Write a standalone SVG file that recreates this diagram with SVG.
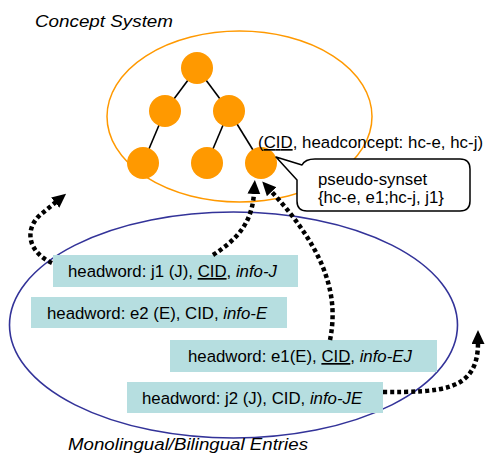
<svg xmlns="http://www.w3.org/2000/svg" width="486" height="455" viewBox="0 0 486 455">
<style>
text{font-family:"Liberation Sans",Arial,sans-serif;font-size:16.8px;fill:#000}
.it{font-style:italic}
.c{fill:#FF9900}
.box{fill:#B6DEE0}
.tree{stroke:#000;stroke-width:1.6;fill:none}
.dot{stroke:#000;stroke-width:4.5;stroke-dasharray:4 3;fill:none;marker-end:url(#ah)}
</style>
<defs>
<marker id="ah" markerUnits="userSpaceOnUse" markerWidth="16" markerHeight="16" refX="1" refY="6.5" orient="auto" viewBox="0 0 16 16">
<path d="M0,0 L14,6.5 L0,13 Z" fill="#000"/>
</marker>
</defs>
<rect width="486" height="455" fill="#fff"/>
<g id="concept-system">
<ellipse cx="239.5" cy="116.5" rx="132.5" ry="85.5" fill="none" stroke="#FF9900" stroke-width="1.5"/>
<text class="it" x="35" y="27" textLength="138" lengthAdjust="spacingAndGlyphs">Concept System</text>
</g>
<g id="entries">
<ellipse cx="233.5" cy="325" rx="224" ry="113" fill="none" stroke="#333399" stroke-width="1.6"/>
<text class="it" x="68" y="450" textLength="240" lengthAdjust="spacingAndGlyphs">Monolingual/Bilingual Entries</text>
</g>
<g id="tree-edges">
<line class="tree" x1="197" y1="68" x2="165" y2="111"/>
<line class="tree" x1="197" y1="68" x2="229" y2="111"/>
<line class="tree" x1="165" y1="111" x2="143" y2="163"/>
<line class="tree" x1="229" y1="111" x2="207" y2="163"/>
<line class="tree" x1="229" y1="111" x2="261" y2="163"/>
</g>
<g id="n-root"><circle class="c" cx="197" cy="68" r="16"/></g>
<g id="n-left"><circle class="c" cx="165" cy="111" r="16"/></g>
<g id="n-right"><circle class="c" cx="229" cy="111" r="16"/></g>
<g id="n-ll"><circle class="c" cx="143" cy="163" r="16"/></g>
<g id="n-rm"><circle class="c" cx="207" cy="163" r="16"/></g>
<g id="n-rr"><circle class="c" cx="261" cy="163" r="16"/></g>
<g id="headconcept-label">
<text x="258" y="148" textLength="225">(<tspan text-decoration="underline">CID</tspan>, headconcept: hc-e, hc-j)</text>
</g>
<g id="callout">
<path d="M276,157 L302,165 Q305,159 315,159 L460,159 Q470,159 470,169 L470,201 Q470,211 460,211 L307,211 Q297,211 297,201 L297,180 Z" fill="#fff" stroke="#000" stroke-width="1.5" stroke-linejoin="round"/>
<text x="318" y="185">pseudo-synset</text>
<text x="318" y="203">{hc-e, e1;hc-j, j1}</text>
</g>
<g id="entry-j1">
<rect class="box" x="53" y="255" width="245" height="32"/>
<text x="68" y="277">headword: j1 (J), <tspan text-decoration="underline">CID</tspan>, <tspan class="it">info-J</tspan></text>
</g>
<g id="entry-e2">
<rect class="box" x="31" y="297" width="256" height="31"/>
<text x="47" y="319">headword: e2 (E), CID, <tspan class="it">info-E</tspan></text>
</g>
<g id="entry-e1">
<rect class="box" x="170" y="340" width="267" height="32"/>
<text x="188" y="362">headword: e1(E), <tspan text-decoration="underline">CID</tspan>, <tspan class="it">info-EJ</tspan></text>
</g>
<g id="entry-j2">
<rect class="box" x="127" y="382" width="256" height="31"/>
<text x="142" y="404">headword: j2 (J), CID, <tspan class="it">info-JE</tspan></text>
</g>
<g id="connectors">
<path class="dot" d="M52,263 C28,252 24,230 40,215 L56,202"/>
<path class="dot" d="M213,255 C236,240 252,224 254,193"/>
<path class="dot" d="M330,340 C338,300 330,255 271,191"/>
<path class="dot" d="M383,392 C440,392 478,392 478,343"/>
</g>
</svg>
